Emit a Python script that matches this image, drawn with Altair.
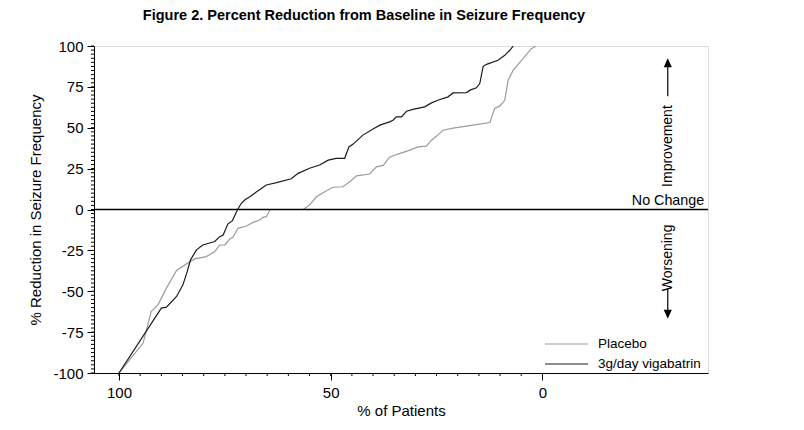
import altair as alt
import pandas as pd

# ---------------- data ----------------
placebo_pct = [100, 94.3, 92.4, 90.8, 88.8, 86.4, 84.1, 82.1, 79.4, 77.4, 76.2, 75.0,
               73.9, 73.1, 71.9, 69.9, 68.4, 66.8, 66.0, 65.2, 64.3, 56.5, 55.0, 53.4,
               51.8, 49.5, 47.1, 45.5, 43.9, 40.8, 39.2, 37.6, 36.1, 34.5, 31.3, 29.4,
               27.4, 26.2, 25.0, 23.5, 21.1, 16.4, 12.4, 11.3, 10.1, 8.9, 8.1, 6.9,
               4.6, 2.6, 1.5]
placebo_red = [-100, -81.7, -62.4, -58.3, -48.1, -37.3, -33.3, -30.2, -28.8, -25.8, -21.7, -21.7,
               -18.2, -17.0, -11.5, -10.1, -8.0, -6.4, -4.8, -4.4, 0, 0, 2.7, 7.8,
               10.3, 13.6, 13.9, 17.0, 20.6, 21.7, 26.1, 27.0, 32.0, 33.6, 36.3, 38.3,
               38.8, 42.4, 44.9, 48.5, 49.8, 51.6, 53.2, 61.8, 63.2, 66.8, 79.1, 85.2,
               92.3, 98.4, 100]
vig_pct = [100, 90.0, 88.8, 86.4, 84.9, 83.9, 83.1, 81.7, 80.2, 77.4, 76.2, 75.4,
           74.3, 73.2, 72.0, 71.1, 70.3, 69.1, 67.5, 65.2, 62.8, 59.3, 57.7, 55.0,
           52.6, 50.6, 48.7, 46.7, 45.7, 44.7, 42.4, 40.0, 38.4, 36.1, 35.3, 34.5,
           33.3, 32.1, 30.6, 27.8, 26.2, 24.7, 22.3, 21.1, 17.9, 17.1, 15.6, 14.8,
           14.0, 13.2, 10.5, 8.9, 7.7, 6.9]
vig_red = [-100, -60.3, -59.7, -53.2, -46.1, -38.0, -30.8, -24.7, -21.7, -19.6, -16.6, -15.6,
           -8.9, -6.8, 0, 3.8, 5.8, 7.8, 10.9, 15.0, 16.4, 18.8, 22.1, 25.2,
           27.2, 30.2, 31.3, 31.3, 38.3, 40.0, 45.5, 49.3, 51.6, 53.6, 54.6, 56.7,
           56.7, 60.1, 61.2, 62.8, 65.2, 66.8, 68.9, 71.3, 71.5, 73.0, 74.4, 77.0,
           87.6, 88.8, 91.3, 94.3, 97.4, 100]

series_names = ["Placebo", "3g/day vigabatrin"]
series_colors = ["#9b9b9b", "#1c1c1c"]
x_major = [100, 50, 0]
x_minor = list(range(0, 101, 5))
y_major = [-100, -75, -50, -25, 0, 25, 50, 75, 100]
y_minor = [i * 2.5 for i in range(-40, 41)]
title_text = "Figure 2. Percent Reduction from Baseline in Seizure Frequency"
x_title = "% of Patients"
y_title = "% Reduction in Seizure Frequency"
ann_up = "Improvement"
ann_down = "Worsening"
ann_zero = "No Change"

FONT = "Liberation Sans, Arial, Helvetica, sans-serif"
FS = 15
W, H = 614, 327

df = pd.concat([
    pd.DataFrame({"pct": placebo_pct, "red": placebo_red, "series": series_names[0],
                  "idx": range(len(placebo_pct))}),
    pd.DataFrame({"pct": vig_pct, "red": vig_red, "series": series_names[1],
                  "idx": range(len(vig_pct))}),
], ignore_index=True)

xscale = alt.Scale(domain=[-39.1, 105.9], reverse=True, nice=False, zero=False)
yscale = alt.Scale(domain=[-100, 100], nice=False, zero=False)

xaxis = alt.Axis(
    values=x_major, format="d", tickSize=7,
    grid=False, domainColor="black", tickColor="black", labelColor="black",
    labelFont=FONT, labelFontSize=FS, labelPadding=5, labelFlush=False, labelOverlap=False,
    title=x_title, titleFont=FONT, titleFontSize=FS, titleFontWeight="normal",
    titleColor="black", titlePadding=3,
)
yaxis = alt.Axis(
    values=y_major, labelExpr="toString(datum.value)", tickSize=7,
    grid=False, domainColor="black", tickColor="black", labelColor="black",
    labelFont=FONT, labelFontSize=FS, labelPadding=4, labelFlush=False, labelOverlap=False,
    title=y_title, titleFont=FONT, titleFontSize=FS, titleFontWeight="normal",
    titleColor="black", titlePadding=9,
)

base = alt.Chart(df)

lines = base.mark_line(strokeWidth=1.2, clip=True).encode(
    x=alt.X("pct:Q", scale=xscale, axis=xaxis),
    y=alt.Y("red:Q", scale=yscale, axis=yaxis),
    color=alt.Color("series:N", scale=alt.Scale(domain=series_names, range=series_colors), legend=None),
    order="idx:Q",
)

# minor ticks, positioned by the shared scales
x_minor_ticks = alt.Chart(pd.DataFrame({"v": x_minor})).mark_rule(color="black", strokeWidth=1).encode(
    x=alt.X("v:Q", scale=xscale), y=alt.value(H), y2=alt.value(H + 3))
y_minor_ticks = alt.Chart(pd.DataFrame({"v": y_minor})).mark_rule(color="black", strokeWidth=1).encode(
    y=alt.Y("v:Q", scale=yscale), x=alt.value(-3), x2=alt.value(0))

zero_line = alt.Chart(pd.DataFrame({"y": [0]})).mark_rule(color="black", strokeWidth=1.3).encode(
    y=alt.Y("y:Q", scale=yscale)
)

# annotation positions (layout, data units)
ARROW_X = -29.6
ann_df = pd.DataFrame({
    "x": [ARROW_X, ARROW_X],
    "y": [38.8, -29.6],
    "t": [ann_up, ann_down],
})
ann_text = alt.Chart(ann_df).mark_text(angle=270, font=FONT, fontSize=14, color="black",
                                       align="center", baseline="middle").encode(
    x=alt.X("x:Q", scale=xscale), y=alt.Y("y:Q", scale=yscale), text="t:N")

zero_text = alt.Chart(pd.DataFrame({"x": [-38.2], "y": [0], "t": [ann_zero]})).mark_text(
    font=FONT, fontSize=14.3, color="black", align="right", baseline="alphabetic", dy=-5
).encode(x=alt.X("x:Q", scale=xscale), y=alt.Y("y:Q", scale=yscale), text="t:N")

shaft_df = pd.DataFrame({"x": [ARROW_X, ARROW_X], "y": [69.3, -48.5], "y2": [88.0, -62.0]})
shafts = alt.Chart(shaft_df).mark_rule(color="black", strokeWidth=1.2).encode(
    x=alt.X("x:Q", scale=xscale), y=alt.Y("y:Q", scale=yscale), y2="y2:Q")

head_up = alt.Chart(pd.DataFrame({"x": [ARROW_X], "y": [92.5]})).mark_point(
    shape="M0,0L0.45,1L-0.45,1Z", size=324, filled=True, color="black", opacity=1
).encode(x=alt.X("x:Q", scale=xscale), y=alt.Y("y:Q", scale=yscale))
head_down = alt.Chart(pd.DataFrame({"x": [ARROW_X], "y": [-66.8]})).mark_point(
    shape="M0,0L0.45,-1L-0.45,-1Z", size=324, filled=True, color="black", opacity=1
).encode(x=alt.X("x:Q", scale=xscale), y=alt.Y("y:Q", scale=yscale))

# title as a text mark above the plot
title_mark = alt.Chart(pd.DataFrame({"t": [title_text]})).mark_text(
    font=FONT, fontSize=14.5, fontWeight="bold", color="black", align="center",
    baseline="alphabetic"
).encode(x=alt.value(270), y=alt.value(-26.5), text="t:N")

# manual legend (bottom right inside plot)
legend_layers = []
for i, (name, col) in enumerate(zip(series_names, series_colors)):
    ly = 298 + 20 * i
    legend_layers.append(
        alt.Chart(pd.DataFrame({"t": [name]})).mark_rule(color=col, strokeWidth=1.2).encode(
            x=alt.value(451), x2=alt.value(494), y=alt.value(ly))
    )
    legend_layers.append(
        alt.Chart(pd.DataFrame({"t": [name]})).mark_text(
            font=FONT, fontSize=13.5, color="black", align="left", baseline="middle"
        ).encode(x=alt.value(504), y=alt.value(ly), text="t:N")
    )

chart = alt.layer(lines, x_minor_ticks, y_minor_ticks, zero_line, ann_text, zero_text,
                  shafts, head_up, head_down, title_mark, *legend_layers).properties(
    width=W, height=H,
    autosize=alt.AutoSizeParams(type="none"),
    padding={"left": 86, "top": 38, "right": 70, "bottom": 48},
).configure_view(stroke="black", strokeWidth=1.2).configure(background="white")

chart.save("out.html", embed_options={"renderer": "svg", "actions": False})
